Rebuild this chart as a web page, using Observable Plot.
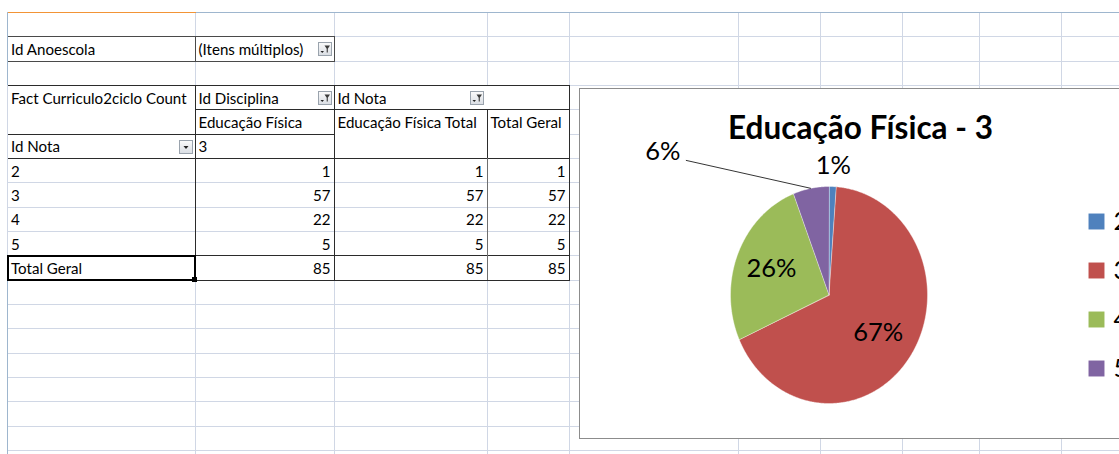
<!DOCTYPE html>
<html><head><meta charset="utf-8">
<script src="https://cdn.jsdelivr.net/npm/d3@7"></script>
<script src="https://cdn.jsdelivr.net/npm/@observablehq/plot@0.6"></script>
<style>
html,body{margin:0;padding:0;background:#fff;}
body{width:1119px;height:454px;overflow:hidden;position:relative;font-family:Lato,"Noto Sans",sans-serif;}
.ln{position:absolute;}
.cell{position:absolute;font-size:15.1px;height:15px;line-height:15px;color:#000;white-space:nowrap;}
.btn{position:absolute;}
#chart{position:absolute;left:579px;top:88px;width:600px;height:349px;border:1px solid #8c8c8c;background:#fff;}
#chart svg{display:block;}
</style></head><body>
<div id="sheet"></div>
<div id="chart"></div>
<script>
// ---------- data ----------
const notas = ["2", "3", "4", "5"];
const counts = [1, 57, 22, 5];
const eduFisicaTotal = [1, 57, 22, 5];
const totalGeral = [1, 57, 22, 5];
const sliceColors = ["#4F81BD", "#C0504D", "#9BBB59", "#8064A2"];
const chartTitle = "Educação Física - 3";
const filterLabel = "Id Anoescola";
const filterValue = "(Itens múltiplos)";
const measureLabel = "Fact Curriculo2ciclo Count";
const colField = "Id Disciplina";
const colField2 = "Id Nota";
const disciplina = "Educação Física";
const disciplinaTotal = "Educação Física Total";
const grandTotalLabel = "Total Geral";
const rowField = "Id Nota";
const notaSubheader = "3";

// ---------- spreadsheet ----------
const sheet = document.getElementById("sheet");
const colX = [7.5, 195, 334, 487, 569, 738, 820, 902, 979, 1061, 1143];
const row0 = 12.3, rowH = 24.35;
const rowY = i => row0 + rowH * i;
const GRID = "#d0d7e5", DARK = "#2b2b2b";
function box(x, y, w, h, color) {
  const d = document.createElement("div");
  d.className = "ln";
  d.style.left = x + "px"; d.style.top = y + "px";
  d.style.width = w + "px"; d.style.height = h + "px";
  d.style.background = color;
  sheet.appendChild(d);
  return d;
}
const hline = (x1, x2, y, c, w = 1) => box(Math.round(x1), Math.round(y - w / 2), Math.round(x2 - x1), w, c);
const vline = (x, y1, y2, c, w = 1) => box(Math.round(x - w / 2), Math.round(y1), w, Math.round(y2 - y1), c);

for (let i = 1; rowY(i) < 460; i++) hline(7.5, 1119, rowY(i), GRID);
for (const x of colX.slice(1)) vline(x, row0, 454, GRID);
hline(7.5, 1119, row0, "#9eb6ce");
hline(7.5, 195, row0, "#f29436", 1);
vline(7.5, row0, 454, "#9eb6ce");

function text(str, c1, c2, row, align = "left") {
  const d = document.createElement("div");
  d.className = "cell";
  d.textContent = str;
  d.style.top = (rowY(row + 1) - 4 - 15) + "px";
  if (align === "left") d.style.left = (colX[c1] + 3.5) + "px";
  else d.style.right = (1119 - colX[c2] + 3.5) + "px";
  sheet.appendChild(d);
}
function button(x, row, kind) {
  const ns = "http://www.w3.org/2000/svg";
  const s = document.createElementNS(ns, "svg");
  s.setAttribute("width", 14); s.setAttribute("height", 14);
  s.setAttribute("class", "btn");
  s.style.left = x + "px"; s.style.top = (rowY(row) + 5.5) + "px";
  let inner = '<defs><linearGradient id="g' + x + row + '" x1="0" y1="0" x2="0" y2="1"><stop offset="0" stop-color="#fbfbfb"/><stop offset="1" stop-color="#d9dde3"/></linearGradient></defs>' +
    '<rect x="0.5" y="0.5" width="13" height="13" fill="url(#g' + x + row + ')" stroke="#9aa3ad"/>';
  if (kind === "filter") {
    inner += '<path d="M6.5 3.5 H12 L9.8 6.8 V10.5 H8.7 V6.8 Z" fill="#3b3b3b"/>' +
      '<path d="M2.5 9 H6 L4.25 11 Z" fill="#222"/>';
  } else {
    inner += '<path d="M4.5 6 H9.5 L7 9 Z" fill="#222"/>';
  }
  s.innerHTML = inner;
  sheet.appendChild(s);
}

// filter row
hline(7.5, 334, rowY(1), "#4a4a4a");
hline(7.5, 334, rowY(2), "#4a4a4a");
vline(195, rowY(1), rowY(2), "#4a4a4a");
vline(334, rowY(1), rowY(2), "#4a4a4a");
text(filterLabel, 0, 1, 1);
text(filterValue, 1, 2, 1);
button(318, 1, "filter");

// pivot table borders
const tTop = rowY(3), tBot = rowY(11);
box(Math.round(7.5), Math.round(tTop), 569 - 8, Math.round(tBot - tTop), "#fff");
for (let i = 7; i <= 9; i++) hline(7.5, 569, rowY(i), GRID);
hline(7.5, 569, rowY(3), DARK);
hline(195, 569, rowY(4), DARK);
hline(7.5, 334, rowY(5), DARK);
hline(7.5, 569, rowY(6), DARK);
hline(7.5, 569, rowY(10), DARK);
hline(7.5, 569, rowY(11), DARK);
vline(7.5, tTop, tBot, GRID);
vline(195, tTop, tBot, DARK);
vline(334, tTop, tBot, DARK);
vline(487, rowY(4), rowY(6), DARK);
vline(487, rowY(6), tBot, "#6e6e6e");
vline(569, tTop, tBot, DARK);

text(measureLabel, 0, 1, 3);
text(colField, 1, 2, 3);
button(318, 3, "filter");
text(colField2, 2, 3, 3);
button(470, 3, "filter");
text(disciplina, 1, 2, 4);
text(disciplinaTotal, 2, 3, 4);
text(grandTotalLabel, 3, 4, 4);
text(rowField, 0, 1, 5);
button(179, 5, "drop");
text(notaSubheader, 1, 2, 5);
notas.forEach((n, i) => {
  text(n, 0, 1, 6 + i);
  text(String(counts[i]), 1, 2, 6 + i, "right");
  text(String(eduFisicaTotal[i]), 2, 3, 6 + i, "right");
  text(String(totalGeral[i]), 3, 4, 6 + i, "right");
});
const total = d3.sum(counts);
text(grandTotalLabel, 0, 1, 10);
text(String(total), 1, 2, 10, "right");
text(String(d3.sum(eduFisicaTotal)), 2, 3, 10, "right");
text(String(d3.sum(totalGeral)), 3, 4, 10, "right");
// selected cell
const sel = document.createElement("div");
sel.className = "ln";
Object.assign(sel.style, {left: "7px", top: Math.round(rowY(10)) - 1 + "px", width: (195 - 7 - 3) + "px",
  height: Math.round(rowH) - 2 + "px", border: "2px solid #000"});
sheet.appendChild(sel);
box(192, Math.round(rowY(11)) - 3, 5, 5, "#000");

// ---------- pie chart ----------
const slices = [];
let acc = 0;
notas.forEach((n, i) => {
  const a0 = acc / total * 360; acc += counts[i];
  const a1 = acc / total * 360;
  slices.push({nota: n, count: counts[i], a0, a1, mid: (a0 + a1) / 2,
    pct: Math.round(counts[i] / total * 100) + "%"});
});
const polar = (deg, r) => ({x: r * Math.sin(deg * Math.PI / 180), y: r * Math.cos(deg * Math.PI / 180)});
const wedgePts = slices.flatMap(s => {
  const pts = [{nota: s.nota, x: 0, y: 0}];
  const n = Math.max(2, Math.ceil((s.a1 - s.a0) / 0.5));
  for (let k = 0; k <= n; k++) pts.push({nota: s.nota, ...polar(s.a0 + (s.a1 - s.a0) * k / n, 1)});
  return pts;
});

// layout (pixels)
const W = 560, H = 349, cx = 248.5, cy = 205.5, RX = 98.5, RY = 108.5;
const labelRadius = {"2": 1.19, "3": 0.61, "4": 0.63};
const leader = {"5": {labelDx: -148, labelDy: -37, lineDx: -125, lineDy: -28}};
const labels = slices.map(s => {
  if (leader[s.nota]) {
    const e = polar(s.mid, 1), L = leader[s.nota];
    return {...s, x: e.x + L.labelDx / RX, y: e.y - L.labelDy / RY,
      lx1: e.x + L.lineDx / RX, ly1: e.y - L.lineDy / RY, lx2: e.x, ly2: e.y};
  }
  return {...s, ...polar(s.mid, labelRadius[s.nota])};
});
const leaders = labels.filter(d => d.lx1 !== undefined);
const legendX = (1096 - 580 - cx) / RX;
const legendStep = 49 / RY;
const legendY = (d, i) => (1.5 - i) * legendStep;

const chart = Plot.plot({
  width: W, height: H, margin: 0,
  style: {fontFamily: "Lato, 'Noto Sans', sans-serif", background: "#fff", color: "#000"},
  x: {domain: [-1, 1], range: [cx - RX, cx + RX], axis: null},
  y: {domain: [-1, 1], range: [cy + RY, cy - RY], axis: null},
  color: {domain: notas, range: sliceColors},
  marks: [
    Plot.line(wedgePts, {x: "x", y: "y", z: "nota", fill: "nota", stroke: "#ffffff", strokeWidth: 0.8, strokeOpacity: 0.5, curve: "linear-closed"}),
    Plot.link(leaders, {x1: "lx1", y1: "ly1", x2: "lx2", y2: "ly2", stroke: "#000", strokeWidth: 0.8}),
    Plot.text(labels, {x: "x", y: "y", text: "pct", fontSize: 25.5, fill: "#000", lineAnchor: "middle"}),
    Plot.text([chartTitle], {frameAnchor: "top-left", dx: 280, dy: 49, lineAnchor: "bottom", textAnchor: "middle", fontSize: 31.5, fontWeight: "bold", fill: "#000"}),
    Plot.dot(notas, {x: () => legendX, y: legendY, fill: d => d, symbol: "square", r: 9}),
    Plot.text(notas, {x: () => legendX, y: legendY, text: d => d, dx: 17, textAnchor: "start", lineAnchor: "middle", fontSize: 25.5, fill: "#000"})
  ]
});
document.getElementById("chart").appendChild(chart);
</script>
</body></html>
